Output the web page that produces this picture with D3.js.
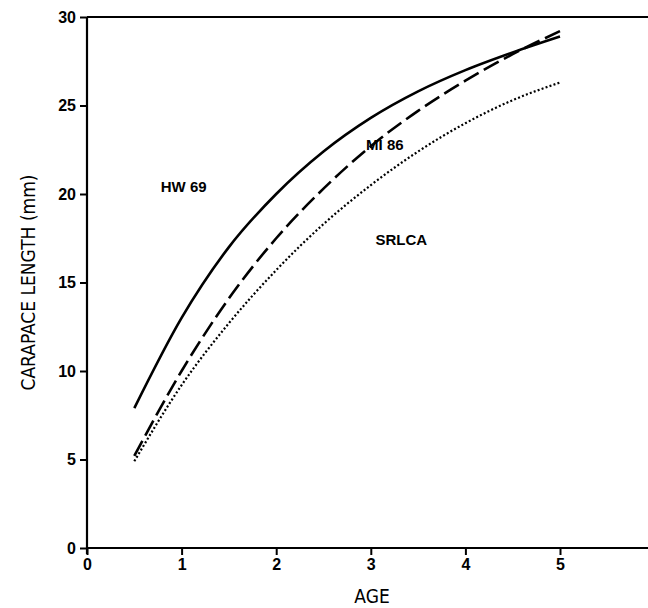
<!DOCTYPE html>
<html>
<head>
<meta charset="utf-8">
<script src="https://cdn.jsdelivr.net/npm/d3@7"></script>
<style>
  html, body { margin: 0; padding: 0; background: #fff; }
  svg { display: block; }
</style>
</head>
<body>
<svg id="chart" width="648" height="608"></svg>
<script>
// ---- Data ----
const ages = [0.5, 1, 1.5, 2, 2.5, 3, 3.5, 4, 4.5, 5];
const hw69 = [7.9, 13.0, 17.0, 20.0, 22.4, 24.3, 25.8, 27.0, 28.0, 28.9];
const mi86 = [5.2, 10.0, 14.1, 17.5, 20.3, 22.7, 24.7, 26.4, 27.9, 29.2];
const srlca = [4.9, 9.2, 12.7, 15.7, 18.3, 20.5, 22.4, 24.0, 25.3, 26.3];
const xTicks = [0, 1, 2, 3, 4, 5];
const yTicks = [0, 5, 10, 15, 20, 25, 30];
const seriesNames = ["HW 69", "MI 86", "SRLCA"];
const labelPos = [[0.78, 20.1], [2.95, 22.5], [3.05, 17.1]];

const svg = d3.select("#chart");
const x = d3.scaleLinear().domain([0, 6]).range([87, 654.6]);
const y = d3.scaleLinear().domain([0, 30]).range([548, 17]);

const tickFont = "'Liberation Sans', Arial, sans-serif";

// X axis
const xAxis = svg.append("g")
  .attr("transform", `translate(0,${y(0)})`)
  .call(d3.axisBottom(x).tickValues(xTicks).tickSize(7).tickPadding(4).tickFormat(d3.format("d")));
xAxis.select(".domain").attr("stroke-width", 2.2).attr("d", `M${x(0)},0H${x(6)}`);
xAxis.selectAll(".tick line").attr("stroke-width", 2);
xAxis.selectAll(".tick text").attr("font-family", tickFont).attr("font-weight", "bold")
  .attr("font-size", 16).attr("fill", "#000");

// Y axis
const yAxis = svg.append("g")
  .attr("transform", `translate(${x(0)},0)`)
  .call(d3.axisLeft(y).tickValues(yTicks).tickSize(7).tickPadding(4).tickFormat(d3.format("d")));
yAxis.select(".domain").attr("stroke-width", 2.2).attr("d", `M0,${y(0) + 6}V${y(30)}`);
yAxis.selectAll(".tick line").attr("stroke-width", 2);
yAxis.selectAll(".tick text").attr("font-family", tickFont).attr("font-weight", "bold")
  .attr("font-size", 16).attr("fill", "#000");

// Top frame line
svg.append("line")
  .attr("x1", x(0)).attr("x2", x(6)).attr("y1", y(30)).attr("y2", y(30))
  .attr("stroke", "#000").attr("stroke-width", 2);

// Axis titles
svg.append("text")
  .attr("transform", `translate(35,${y(15)}) rotate(-90)`)
  .attr("text-anchor", "middle")
  .attr("font-family", "'DejaVu Sans Condensed', 'DejaVu Sans', sans-serif")
  .attr("font-stretch", "condensed")
  .attr("font-size", 19)
  .attr("fill", "#000")
  .text("CARAPACE LENGTH (mm)");

svg.append("text")
  .attr("x", 372).attr("y", 603)
  .attr("text-anchor", "middle")
  .attr("font-family", "'DejaVu Sans Condensed', 'DejaVu Sans', sans-serif")
  .attr("font-stretch", "condensed")
  .attr("font-size", 19)
  .attr("fill", "#000")
  .text("AGE");

// Curves
const line = d3.line().x((d, i) => x(ages[i])).y(d => y(d)).curve(d3.curveMonotoneX);
const series = [
  { vals: hw69, dash: null, w: 2.6 },
  { vals: mi86, dash: "17,6", w: 2.6 },
  { vals: srlca, dash: "2,2.2", w: 2.2 }
];
svg.selectAll("path.curve").data(series).enter().append("path")
  .attr("class", "curve")
  .attr("d", d => line(d.vals))
  .attr("fill", "none")
  .attr("stroke", "#000")
  .attr("stroke-width", d => d.w)
  .attr("stroke-dasharray", d => d.dash);

// Series labels
svg.selectAll("text.lbl").data(seriesNames).enter().append("text")
  .attr("class", "lbl")
  .attr("x", (d, i) => x(labelPos[i][0]))
  .attr("y", (d, i) => y(labelPos[i][1]))
  .attr("font-family", tickFont)
  .attr("font-weight", "bold")
  .attr("font-size", 15)
  .attr("fill", "#000")
  .text(d => d);
</script>
</body>
</html>
